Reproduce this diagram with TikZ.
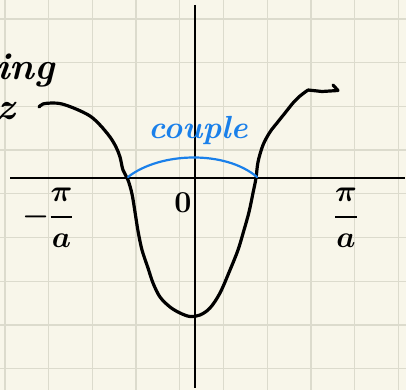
\documentclass[tikz,border=0pt]{standalone}
\usepackage{amsmath}
\usepackage{graphicx}
\definecolor{paper}{HTML}{F8F6EA}
\definecolor{gridc}{HTML}{DCDBCD}
\definecolor{pen}{HTML}{1A80EA}
\tikzset{
  gridline/.style={draw=gridc, line width=1.3pt},
  axisline/.style={draw=black, line width=1.8pt},
  inkline/.style={draw=black, line width=3.2pt, line cap=round, line join=round},
  blueline/.style={draw=pen, line width=2.2pt, line cap=round},
  hand/.style={font=\fontsize{38}{38}\selectfont\bfseries\itshape, inner sep=0pt},
  bluehand/.style={font=\fontsize{32}{32}\selectfont\bfseries\itshape, inner sep=0pt, text=pen},
  mlabel/.style={font=\fontsize{24.88}{25}\selectfont\boldmath, inner sep=0pt}
}
\newcommand{\mybigmath}[1]{\scalebox{1.22}{$#1$}}
\begin{document}
\begin{tikzpicture}[x=1pt,y=-1pt]
\fill[paper] (0,0) rectangle (406,390);
\useasboundingbox (0,0) rectangle (406,390);
\begin{scope}
\clip (0,0) rectangle (406,390);
% grid
\foreach \gx in {5,48.7,92.4,136.1,179.8,223.5,267.2,310.9,354.6,398.3}
  \draw[gridline] (\gx,0) -- (\gx,390);
\foreach \gy in {19,62.7,106.4,150.1,193.8,237.5,281.2,324.9,368.6}
  \draw[gridline] (0,\gy) -- (406,\gy);
% cut-off text at the left (as in the reference)
\node[hand, anchor=base east] (ying) at (55,80) {ying};
\node[hand, anchor=base east] (zc) at (15,120) {z};
\end{scope}
% axes
\coordinate (xl) at (10,178);
\coordinate (xr) at (405,178);
\coordinate (yt) at (195,5);
\coordinate (yb) at (195,388);
\draw[axisline] (xl) -- (xr);
\draw[axisline] (yt) -- (yb);
% curve
\draw[inkline] plot[smooth, tension=0.55] coordinates {
 (39,107) (43,104) (52,103) (62,104) (76,109) (90,116) (100,125) (110,137)
 (116,147) (120,157) (123,170) (128,180) (132,194) (135,212) (138,231)
 (142,250) (148,268) (153,283) (160,297) (170,307) (180,313) (190,316.5)
 (200,315) (210,308) (220,293) (230,270) (238,250) (244,230) (249,212)
 (253,193) (256,178) (258,162) (263,145) (270,132) (277,123) (285,113)
 (293,103) (300,96) (308,90)};
\draw[inkline] (308,90) -- (322,91.5) -- (338,90.5) -- (333,85);
% coupling arc
\coordinate (cl) at (128,177);
\coordinate (cr) at (257,177);
\draw[blueline] (cl) .. controls (160,152) and (225,150) .. (cr);
\node[bluehand] (couple) at (198,130) {couple};
% labels
\node[mlabel] (zero) at (183,203) {\mybigmath{0}};
\node[mlabel] (mpa) at (48,218) {\mybigmath{-\dfrac{\pi}{a}}};
\node[mlabel] (pa) at (346,218) {\mybigmath{\dfrac{\pi}{a}}};
\end{tikzpicture}
\end{document}
